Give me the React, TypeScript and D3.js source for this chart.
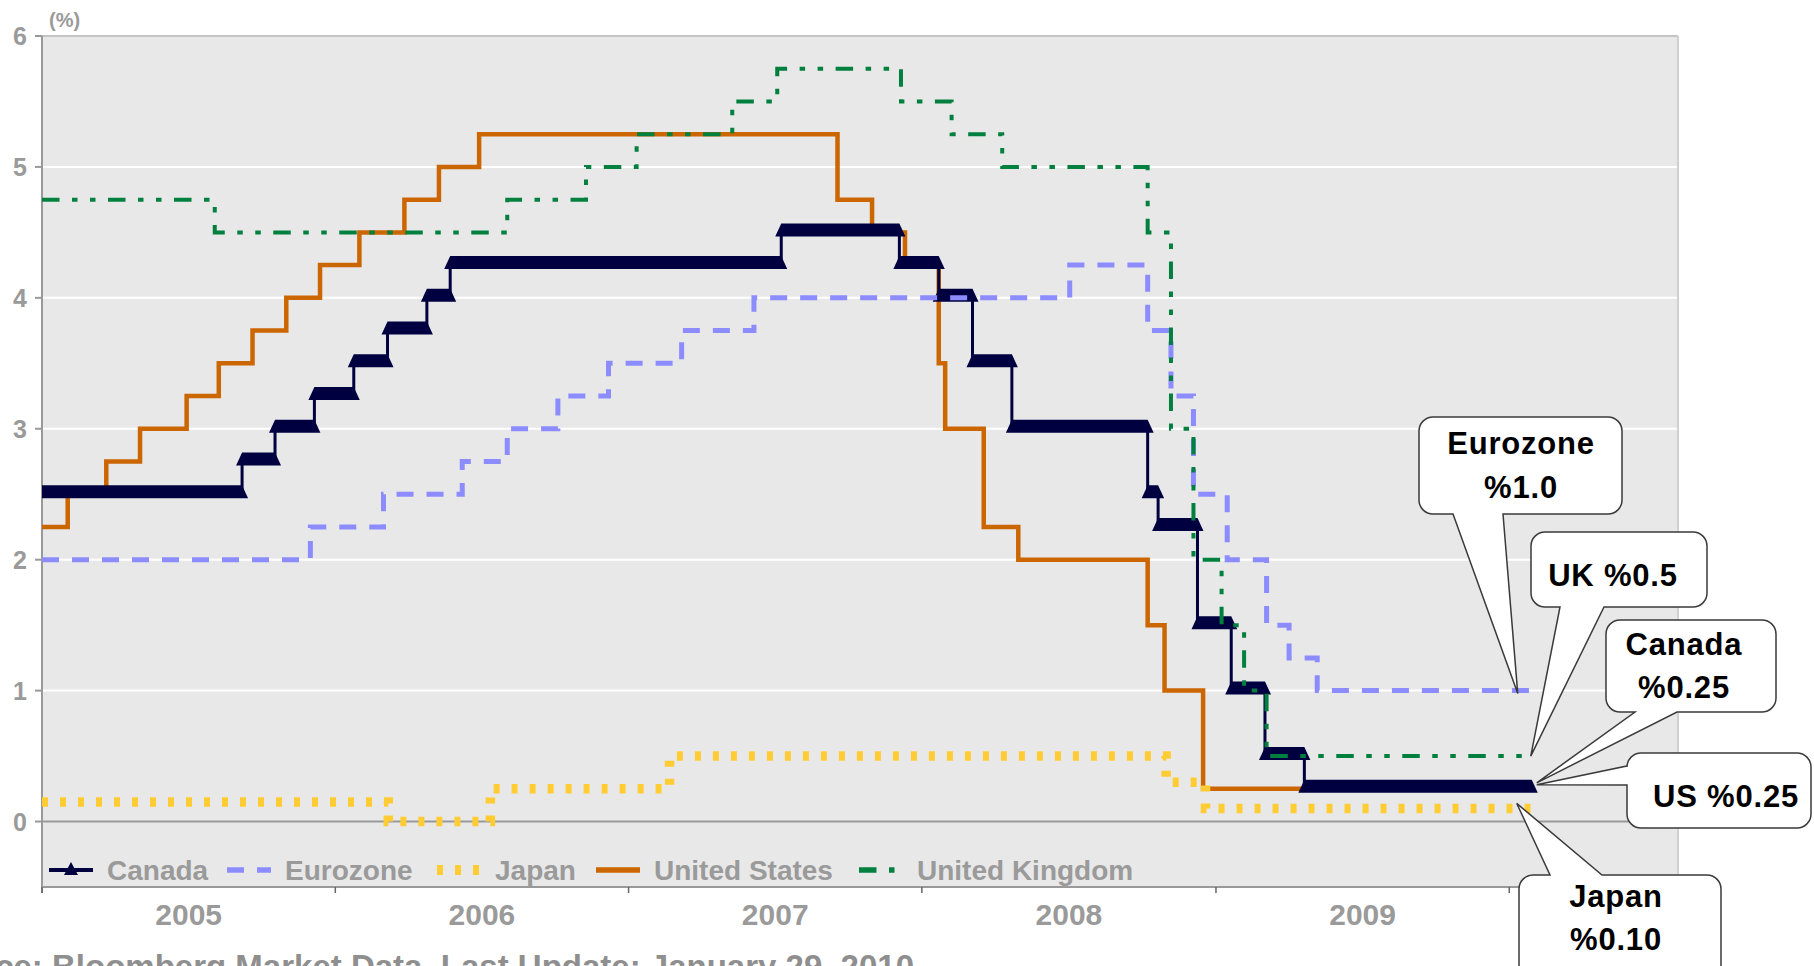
import React from "react";
import * as d3 from "d3";

const W = 1814;
const H = 966;

// policy rates, [date the rate took effect, rate %]
const canadaRates: [string, number][] = [
  ["2005-01-01", 2.5], ["2005-09-07", 2.75], ["2005-10-18", 3.0], ["2005-12-06", 3.25],
  ["2006-01-24", 3.5], ["2006-03-07", 3.75], ["2006-04-25", 4.0], ["2006-05-24", 4.25],
  ["2007-07-10", 4.5], ["2007-12-04", 4.25], ["2008-01-22", 4.0], ["2008-03-04", 3.5],
  ["2008-04-22", 3.0], ["2008-10-08", 2.5], ["2008-10-21", 2.25], ["2008-12-09", 1.5],
  ["2009-01-20", 1.0], ["2009-03-03", 0.5], ["2009-04-21", 0.25],
];
const eurozoneRates: [string, number][] = [
  ["2005-01-01", 2.0], ["2005-12-01", 2.25], ["2006-03-02", 2.5], ["2006-06-08", 2.75],
  ["2006-08-03", 3.0], ["2006-10-05", 3.25], ["2006-12-07", 3.5], ["2007-03-08", 3.75],
  ["2007-06-06", 4.0], ["2008-07-03", 4.25], ["2008-10-08", 3.75], ["2008-11-06", 3.25],
  ["2008-12-04", 2.5], ["2009-01-15", 2.0], ["2009-03-05", 1.5], ["2009-04-02", 1.25],
  ["2009-05-07", 1.0],
];
const japanRates: [string, number][] = [
  ["2005-01-01", 0.15], ["2006-03-08", 0.0], ["2006-07-13", 0.25], ["2007-02-21", 0.5],
  ["2008-10-31", 0.3], ["2008-12-19", 0.1],
];
const usRates: [string, number][] = [
  ["2005-01-01", 2.25], ["2005-02-02", 2.5], ["2005-03-22", 2.75], ["2005-05-03", 3.0],
  ["2005-06-30", 3.25], ["2005-08-09", 3.5], ["2005-09-20", 3.75], ["2005-11-01", 4.0],
  ["2005-12-13", 4.25], ["2006-01-31", 4.5], ["2006-03-28", 4.75], ["2006-05-10", 5.0],
  ["2006-06-29", 5.25], ["2007-09-18", 4.75], ["2007-10-31", 4.5], ["2007-12-11", 4.25],
  ["2008-01-22", 3.5], ["2008-01-30", 3.0], ["2008-03-18", 2.25], ["2008-04-30", 2.0],
  ["2008-10-08", 1.5], ["2008-10-29", 1.0], ["2008-12-16", 0.25],
];
const ukRates: [string, number][] = [
  ["2005-01-01", 4.75], ["2005-08-04", 4.5], ["2006-08-03", 4.75], ["2006-11-09", 5.0],
  ["2007-01-11", 5.25], ["2007-05-10", 5.5], ["2007-07-05", 5.75], ["2007-12-06", 5.5],
  ["2008-02-07", 5.25], ["2008-04-10", 5.0], ["2008-10-08", 4.5], ["2008-11-06", 3.0],
  ["2008-12-04", 2.0], ["2009-01-08", 1.5], ["2009-02-05", 1.0], ["2009-03-05", 0.5],
];

const END_DATE = "2010-01-29";
const yTicks = [0, 1, 2, 3, 4, 5, 6];
const years = ["2005", "2006", "2007", "2008", "2009"];
const legendNames = ["Canada", "Eurozone", "Japan", "United States", "United Kingdom"];
const calloutTexts = [["Eurozone", "%1.0"], ["UK %0.5"], ["Canada", "%0.25"], ["US %0.25"], ["Japan", "%0.10"]];
const sourceText = "Source: Bloomberg Market Data, Last Update: January 29, 2010";

const parse = d3.utcParse("%Y-%m-%d");
const FONT = "'Liberation Sans', Arial, sans-serif";
const GREY = "#9a9a9a";

const x = d3.scaleUtc().domain([parse("2005-01-01")!, parse("2010-07-30")!]).range([42, 1678]);
const y = d3.scaleLinear().domain([-0.5, 6]).range([887, 36]);

const withEnd = (rows: [string, number][]) => [...rows, [END_DATE, rows[rows.length - 1][1]] as [string, number]];

const stepLine = d3
  .line<[string, number]>()
  .x((d) => x(parse(d[0])!))
  .y((d) => y(d[1]))
  .curve(d3.curveStepAfter);

const series = [
  { name: "Canada", rows: canadaRates, color: "#000040", width: 3, dash: undefined },
  { name: "Eurozone", rows: eurozoneRates, color: "#8c8cff", width: 5, dash: "17 13" },
  { name: "Japan", rows: japanRates, color: "#ffcc33", width: 9.5, dash: "6 12" },
  { name: "United States", rows: usRates, color: "#cc6600", width: 4.5, dash: undefined },
  { name: "United Kingdom", rows: ukRates, color: "#00803f", width: 4, dash: "17.5 12.5 5.5 12.5 5.5 12.5" },
];

// callout boxes: box [x0,y0,x1,y1], side of the tail, tail base, tip offset from series end
const callouts = [
  { box: [1419, 417, 1622, 514], side: "bottom", base: [1453, 1503], rows: eurozoneRates, dx: -14, dy: 3, tx: 1521, ty: [454, 498] },
  { box: [1531, 532, 1707, 607], side: "bottom", base: [1560, 1604], rows: ukRates, dx: -1, dy: 0, tx: 1613, ty: [586] },
  { box: [1606, 620, 1776, 712], side: "bottom", base: [1635, 1677], rows: canadaRates, dx: 5, dy: -6, tx: 1684, ty: [655, 698] },
  { box: [1627, 753, 1811, 828], side: "left", base: [766, 785], rows: usRates, dx: 5, dy: -4, tx: 1726, ty: [807] },
  { box: [1519, 875, 1721, 980], side: "top", base: [1550, 1602], rows: japanRates, dx: -15, dy: -5, tx: 1616, ty: [907, 950] },
];

const legendX = [49, 227, 437, 596, 859];

function calloutPath(box: number[], side: string, base: number[], tip: number[], r = 14) {
  const [x0, y0, x1, y1] = box;
  const [a, c] = base;
  const [tx, ty] = tip;
  let p = `M${x0 + r},${y0}`;
  if (side === "top") p += `H${a}L${tx},${ty}L${c},${y0}`;
  p += `H${x1 - r}A${r},${r} 0 0 1 ${x1},${y0 + r}V${y1 - r}A${r},${r} 0 0 1 ${x1 - r},${y1}`;
  if (side === "bottom") p += `H${c}L${tx},${ty}L${a},${y1}`;
  p += `H${x0 + r}A${r},${r} 0 0 1 ${x0},${y1 - r}`;
  if (side === "left") p += `V${c}L${tx},${ty}L${x0},${a}`;
  p += `V${y0 + r}A${r},${r} 0 0 1 ${x0 + r},${y0}Z`;
  return p;
}

const App = () => {
  const endX = x(parse(END_DATE)!);
  const yearBounds = d3.range(2005, 2011).map((yr) => x(parse(`${yr}-01-01`)!));

  // Canada's dense triangle markers form a band around each level
  const canadaBand = canadaRates.map((d, i) => {
    const xs = x(parse(d[0])!);
    const xe = i < canadaRates.length - 1 ? x(parse(canadaRates[i + 1][0])!) : endX;
    const yv = y(d[1]);
    return `M${xs},${yv - 9}L${xe},${yv - 9}L${xe + 6},${yv + 4}L${xs - 6},${yv + 4}Z`;
  });

  const drawOrder = ["United States", "Canada", "Eurozone", "Japan", "United Kingdom"];

  return (
    <svg width={W} height={H} style={{ position: "absolute", left: 0, top: 0, background: "#fff" }} fontFamily={FONT}>
      <defs>
        <clipPath id="plot">
          <rect x={x.range()[0]} y={y.range()[1]} width={x.range()[1] - x.range()[0]} height={y.range()[0] - y.range()[1]} />
        </clipPath>
      </defs>
      <rect x={x.range()[0]} y={y.range()[1]} width={x.range()[1] - x.range()[0]} height={y.range()[0] - y.range()[1]} fill="#e8e8e8" />
      {yTicks.filter((t) => t > 0 && t < 6).map((t) => (
        <line key={t} x1={x.range()[0]} x2={x.range()[1]} y1={y(t)} y2={y(t)} stroke="#fff" strokeWidth={2} />
      ))}
      <line x1={x.range()[0]} x2={x.range()[1]} y1={y(6)} y2={y(6)} stroke="#c4c4c4" strokeWidth={2} />
      <line x1={x.range()[1]} x2={x.range()[1]} y1={y(6)} y2={y(-0.5)} stroke="#d0d0d0" strokeWidth={2} />
      <line x1={x.range()[0]} x2={x.range()[1]} y1={y(0)} y2={y(0)} stroke="#999" strokeWidth={2} />
      <line x1={x.range()[0]} x2={x.range()[1]} y1={y(-0.5)} y2={y(-0.5)} stroke="#999" strokeWidth={2} />
      <line x1={x.range()[0]} x2={x.range()[0]} y1={y(6)} y2={y(-0.5) + 6} stroke="#999" strokeWidth={2} />
      {yTicks.map((t) => (
        <g key={t}>
          <line x1={35} x2={x.range()[0]} y1={y(t)} y2={y(t)} stroke="#999" strokeWidth={2} />
          <text x={27} y={y(t) + 9} textAnchor="end" fontSize={25} fontWeight="bold" fill={GREY}>{t}</text>
        </g>
      ))}
      <text x={49} y={27} fontSize={20} fontWeight="bold" fill={GREY}>(%)</text>
      {yearBounds.map((bx, i) => (
        <line key={i} x1={bx} x2={bx} y1={y(-0.5)} y2={y(-0.5) + 6} stroke="#666" strokeWidth={1.5} />
      ))}
      {years.map((yr, i) => (
        <text key={yr} x={(yearBounds[i] + yearBounds[i + 1]) / 2} y={925} textAnchor="middle" fontSize={30} fontWeight="bold" fill={GREY}>{yr}</text>
      ))}

      <g clipPath="url(#plot)">
        {drawOrder.map((name) => {
          const s = series.find((d) => d.name === name)!;
          return (
            <g key={name}>
              <path d={stepLine(withEnd(s.rows)) ?? ""} fill="none" stroke={s.color} strokeWidth={s.width} strokeDasharray={s.dash} />
              {name === "Canada" && canadaBand.map((d, i) => <path key={i} d={d} fill={s.color} />)}
            </g>
          );
        })}
      </g>

      {series.map((s, i) => {
        const lx = legendX[i];
        return (
          <g key={s.name}>
            <line x1={lx} x2={lx + 44} y1={870} y2={870} stroke={s.color} strokeWidth={s.name === "Japan" ? 10 : s.name === "Canada" ? 4 : 5.5} strokeDasharray={s.dash} />
            {s.name === "Canada" && <path d={`M${lx + 22},${862}L${lx + 29},${875}L${lx + 15},${875}Z`} fill={s.color} />}
            <text x={lx + 58} y={880} fontSize={28} fontWeight="bold" fill={GREY}>{legendNames[i]}</text>
          </g>
        );
      })}

      {callouts.map((c, i) => {
        const last = c.rows[c.rows.length - 1][1];
        const tip = [endX + c.dx, y(last) + c.dy];
        return (
          <g key={i}>
            <path d={calloutPath(c.box, c.side, c.base, tip)} fill="#fff" stroke="#3a3a3a" strokeWidth={1.5} />
            {calloutTexts[i].map((t, j) => (
              <text key={j} x={c.tx} y={c.ty[j]} textAnchor="middle" fontSize={31} fontWeight="bold" fill="#000" letterSpacing={0.8}>{t}</text>
            ))}
          </g>
        );
      })}

      <text x={-80} y={978} fontSize={33} fontWeight="bold" fill="#8f8f8f">{sourceText}</text>
    </svg>
  );
};

export default App;
